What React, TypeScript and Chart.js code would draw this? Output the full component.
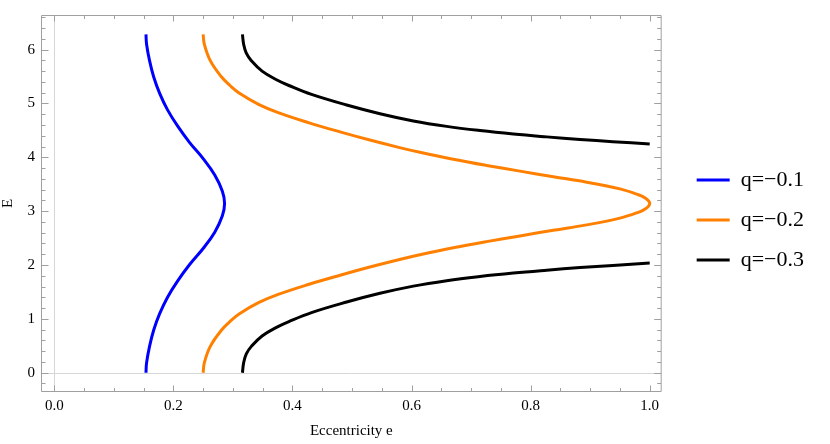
import React, { useEffect, useRef } from "react";
import { Chart, registerables } from "chart.js";

Chart.register(...registerables);

// ---- Data (E = eccentric anomaly on y, eccentricity e on x) ----
const seriesLabels = ["q=−0.1", "q=−0.2", "q=−0.3"];
const seriesColors = ["#0000ff", "#ff8000", "#000000"];

// q = -0.1 (blue), one branch from E = 0 to 2π
const q1E = [0, 0.183, 0.489, 0.793, 1.096, 1.398, 1.701, 2.005, 2.307, 2.61, 2.914, 3.1416, 3.369, 3.673, 3.976, 4.278, 4.582, 4.885, 5.187, 5.49, 5.794, 6.1, 6.283];
const q1Ecc = [0.154, 0.155, 0.16, 0.167, 0.177, 0.19, 0.207, 0.227, 0.25, 0.2695, 0.2823, 0.286, 0.2823, 0.2695, 0.25, 0.227, 0.207, 0.19, 0.177, 0.167, 0.16, 0.155, 0.154];

// q = -0.2 (orange), reaches e = 1 at E = π
const q2E = [0, 0.183, 0.489, 0.793, 0.95, 1.096, 1.3, 1.454, 1.643, 1.811, 1.963, 2.103, 2.19, 2.319, 2.434, 2.54, 2.644, 2.745, 2.87, 2.967, 3.043, 3.1416, 3.24, 3.316, 3.413, 3.538, 3.639, 3.743, 3.849, 3.964, 4.093, 4.18, 4.32, 4.472, 4.64, 4.829, 4.983, 5.187, 5.333, 5.49, 5.794, 6.1, 6.283];
const q2Ecc = [0.25, 0.252, 0.262, 0.281, 0.295, 0.311, 0.343, 0.376, 0.428, 0.48, 0.53, 0.58, 0.614, 0.67, 0.726, 0.782, 0.838, 0.894, 0.95, 0.978, 0.993, 1.0, 0.993, 0.978, 0.95, 0.894, 0.838, 0.782, 0.726, 0.67, 0.614, 0.58, 0.53, 0.48, 0.428, 0.376, 0.343, 0.311, 0.295, 0.281, 0.262, 0.252, 0.25];

// q = -0.3 (black), two branches ending at e = 1
const q3LowerE = [0, 0.183, 0.35, 0.489, 0.683, 0.847, 0.95, 1.116, 1.312, 1.474, 1.608, 1.709, 1.787, 1.851, 1.904, 1.952, 1.993, 2.035];
const q3LowerEcc = [0.316, 0.318, 0.3225, 0.331, 0.349, 0.374, 0.394, 0.432, 0.491, 0.547, 0.603, 0.659, 0.715, 0.771, 0.827, 0.883, 0.938, 1.0];
const q3UpperE = [4.248, 4.29, 4.331, 4.379, 4.432, 4.496, 4.574, 4.675, 4.809, 4.971, 5.167, 5.333, 5.436, 5.6, 5.794, 5.933, 6.1, 6.283];
const q3UpperEcc = [1.0, 0.938, 0.883, 0.827, 0.771, 0.715, 0.659, 0.603, 0.547, 0.491, 0.432, 0.394, 0.374, 0.349, 0.331, 0.3225, 0.318, 0.316];

// ---- Axis ticks ----
const xMajorTicks = [0, 0.2, 0.4, 0.6, 0.8, 1.0];
const xMinorTicks = [0.05, 0.1, 0.15, 0.25, 0.3, 0.35, 0.45, 0.5, 0.55, 0.65, 0.7, 0.75, 0.85, 0.9, 0.95];
const yMajorTicks = [0, 1, 2, 3, 4, 5, 6];
const yMinorTicks = [-0.2, 0.2, 0.4, 0.6, 0.8, 1.2, 1.4, 1.6, 1.8, 2.2, 2.4, 2.6, 2.8, 3.2, 3.4, 3.6, 3.8, 4.2, 4.4, 4.6, 4.8, 5.2, 5.4, 5.6, 5.8, 6.2, 6.4, 6.6];
const xRange = [-0.0223, 1.0201];
const yRange = [-0.358, 6.642];

const serif = "'Liberation Serif', 'Times New Roman', serif";

function toPoints(es: number[], ecc: number[]) {
  return es.map((E, i) => ({ x: ecc[i], y: E }));
}

const frameColor = "#a0a0a0";

const framePlugin = {
  id: "mmaFrame",
  beforeDatasetsDraw(chart: any) {
    const { ctx, chartArea: a, scales } = chart;
    const x = scales.x;
    const y = scales.y;
    ctx.save();
    ctx.strokeStyle = "#d6d6d6";
    ctx.lineWidth = 1;
    const x0 = Math.round(x.getPixelForValue(0)) + 0.5;
    const y0 = Math.round(y.getPixelForValue(0)) + 0.5;
    ctx.beginPath();
    ctx.moveTo(x0, a.top);
    ctx.lineTo(x0, a.bottom);
    ctx.moveTo(a.left, y0);
    ctx.lineTo(a.right, y0);
    ctx.stroke();
    ctx.restore();
  },
  afterDatasetsDraw(chart: any) {
    const { ctx, chartArea: a, scales } = chart;
    const x = scales.x;
    const y = scales.y;
    const L = a.left + 0.5;
    const R = a.right - 0.5;
    const T = a.top + 0.5;
    const B = a.bottom - 0.5;
    ctx.save();
    ctx.strokeStyle = frameColor;
    ctx.lineWidth = 1;
    ctx.beginPath();
    ctx.rect(L, T, R - L, B - T);
    ctx.stroke();
    ctx.beginPath();
    const xt = (vals: number[], len: number) => {
      vals.forEach((v) => {
        const px = Math.round(x.getPixelForValue(v)) + 0.5;
        ctx.moveTo(px, B);
        ctx.lineTo(px, B - len);
        ctx.moveTo(px, T);
        ctx.lineTo(px, T + len);
      });
    };
    const yt = (vals: number[], len: number) => {
      vals.forEach((v) => {
        const py = Math.round(y.getPixelForValue(v)) + 0.5;
        ctx.moveTo(L, py);
        ctx.lineTo(L + len, py);
        ctx.moveTo(R, py);
        ctx.lineTo(R - len, py);
      });
    };
    xt(xMajorTicks, 6);
    xt(xMinorTicks, 3.5);
    yt(yMajorTicks, 7);
    yt(yMinorTicks, 4);
    ctx.stroke();
    ctx.restore();
  },
};

export default function App() {
  const ref = useRef<HTMLCanvasElement | null>(null);

  useEffect(() => {
    if (!ref.current) return;
    const mk = (label: string, color: string, data: any[], legendHidden = false) => ({
      label,
      data,
      legendHidden,
      showLine: true,
      borderColor: color,
      backgroundColor: color,
      borderWidth: 3,
      pointRadius: 0,
      pointHoverRadius: 0,
      tension: 0.4,
      borderCapStyle: "butt",
      borderJoinStyle: "round",
      fill: false,
    });
    const datasets = [
      mk(seriesLabels[0], seriesColors[0], toPoints(q1E, q1Ecc)),
      mk(seriesLabels[1], seriesColors[1], toPoints(q2E, q2Ecc)),
      mk(seriesLabels[2], seriesColors[2], toPoints(q3LowerE, q3LowerEcc)),
      mk(seriesLabels[2], seriesColors[2], toPoints(q3UpperE, q3UpperEcc), true),
    ];

    const chart = new Chart(ref.current, {
      type: "scatter",
      data: { datasets } as any,
      plugins: [framePlugin],
      options: {
        responsive: false,
        animation: false,
        events: [],
        layout: { padding: { top: 7, bottom: 11, left: 0, right: 16 } },
        scales: {
          x: {
            type: "linear",
            position: "bottom",
            min: xRange[0],
            max: xRange[1],
            afterBuildTicks: (s: any) => {
              s.ticks = xMajorTicks.map((v) => ({ value: v }));
            },
            afterFit: (s: any) => {
              s.height = 41;
            },
            grid: { display: false, drawTicks: false },
            border: { display: false },
            ticks: {
              padding: 5,
              color: "#000",
              font: { family: serif, size: 15 },
              maxRotation: 0,
              autoSkip: false,
              callback: (v: any) => Number(v).toFixed(1),
            },
            title: {
              display: true,
              text: "Eccentricity e",
              color: "#000",
              font: { family: serif, size: 15 },
              padding: { top: 0, bottom: -7 },
            },
          },
          y: {
            type: "linear",
            position: "left",
            min: yRange[0],
            max: yRange[1],
            afterBuildTicks: (s: any) => {
              s.ticks = yMajorTicks.map((v) => ({ value: v }));
            },
            afterFit: (s: any) => {
              s.width = 41;
            },
            grid: { display: false, drawTicks: false },
            border: { display: false },
            ticks: {
              padding: 6,
              color: "#000",
              font: { family: serif, size: 15 },
              autoSkip: false,
              callback: (v: any) => String(Math.round(Number(v))),
            },
            title: {
              display: true,
              text: "E",
              color: "#000",
              font: { family: serif, size: 15 },
              padding: { top: -1, bottom: 0 },
            },
          },
          y2: {
            type: "linear",
            position: "right",
            display: true,
            grid: { display: false, drawTicks: false },
            border: { display: false },
            ticks: { display: false },
            afterFit: (s: any) => {
              s.width = 17;
            },
          },
        },
        plugins: {
          tooltip: { enabled: false },
          legend: {
            display: true,
            position: "right",
            labels: {
              boxWidth: 33,
              boxHeight: 3,
              padding: 18,
              color: "#000",
              font: { family: serif, size: 22 },
              filter: (item: any, data: any) => !data.datasets[item.datasetIndex].legendHidden,
              generateLabels: (c: any) =>
                Chart.defaults.plugins.legend.labels
                  .generateLabels(c)
                  .map((l: any) => ({ ...l, lineWidth: 0, fillStyle: l.strokeStyle })),
            },
          },
        },
      } as any,
    });
    return () => chart.destroy();
  }, []);

  return (
    <div style={{ position: "fixed", left: 0, top: 0, width: 830, height: 444, background: "#fff" }}>
      <canvas ref={ref} width={830} height={444} style={{ display: "block" }} />
    </div>
  );
}
